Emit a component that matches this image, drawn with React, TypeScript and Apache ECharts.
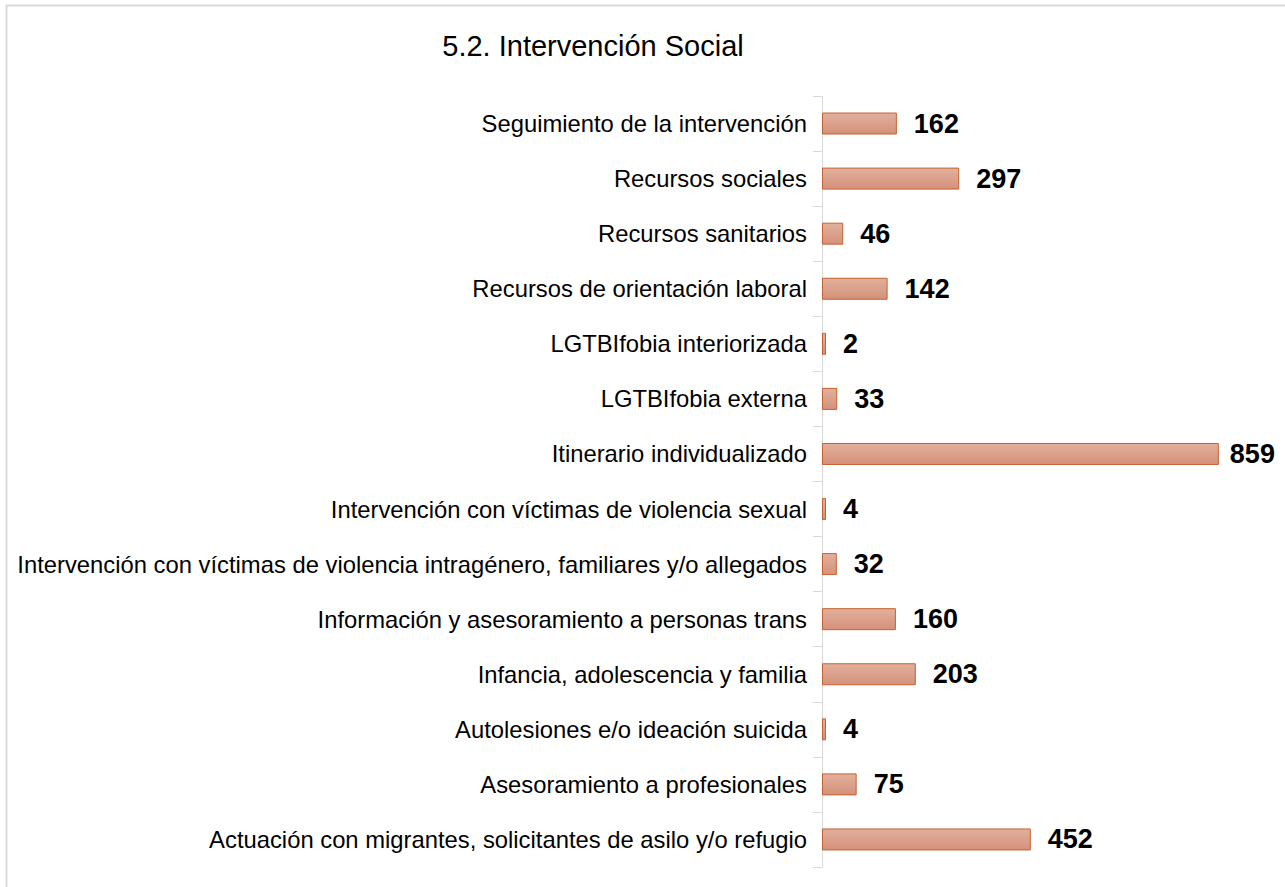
import React, { useEffect, useRef } from "react";
import * as echarts from "echarts";

const titleText = "5.2. Intervención Social";

const categories = [
  "Actuación con migrantes, solicitantes de asilo y/o refugio",
  "Asesoramiento a profesionales",
  "Autolesiones e/o ideación suicida",
  "Infancia, adolescencia y familia",
  "Información y asesoramiento a personas trans",
  "Intervención con víctimas de violencia intragénero, familiares y/o allegados",
  "Intervención con víctimas de violencia sexual",
  "Itinerario individualizado",
  "LGTBIfobia externa",
  "LGTBIfobia interiorizada",
  "Recursos de orientación laboral",
  "Recursos sanitarios",
  "Recursos sociales",
  "Seguimiento de la intervención",
];

const values = [452, 75, 4, 203, 160, 32, 4, 859, 33, 2, 142, 46, 297, 162];

const FONT = "Liberation Sans, Arial, sans-serif";

export default function App() {
  const ref = useRef<HTMLDivElement>(null);
  useEffect(() => {
    if (!ref.current) return;
    const chart = echarts.init(ref.current, undefined, { renderer: "svg" });
    const maxVal = Math.max(...values);
    chart.setOption({
      animation: false,
      backgroundColor: "#ffffff",
      graphic: [
        {
          type: "rect",
          shape: { x: 6.5, y: 5.5, width: 1300, height: 900 },
          style: { fill: "none", stroke: "#d9d9d9", lineWidth: 2 },
          silent: true,
          z: -1,
        },
        {
          type: "text",
          x: 593,
          y: 46,
          style: {
            text: titleText,
            fontFamily: FONT,
            fontSize: 29,
            fill: "#000000",
            textAlign: "center",
            textVerticalAlign: "middle",
          },
          silent: true,
        },
      ],
      grid: {
        left: 822,
        top: 96,
        width: 462,
        height: 771,
        containLabel: false,
      },
      xAxis: {
        type: "value",
        min: 0,
        max: 1000,
        show: false,
      },
      yAxis: {
        type: "category",
        data: categories,
        axisLine: { show: true, lineStyle: { color: "#d9d9d9", width: 1 } },
        axisTick: { show: true, length: 9, lineStyle: { color: "#d9d9d9" } },
        axisLabel: {
          margin: 15,
          fontFamily: FONT,
          fontSize: 23.8,
          color: "#000000",
        },
      },
      series: [
        {
          type: "bar",
          barWidth: 22,
          barMinHeight: 4,
          data: values.map((v) => ({
            value: v,
            label: { distance: v === maxVal ? 11 : 17 },
          })),
          itemStyle: {
            color: new echarts.graphic.LinearGradient(0, 0, 0, 1, [
              { offset: 0, color: "#e2b09e" },
              { offset: 1, color: "#d4917a" },
            ]),
            borderColor: "#c4622f",
            borderWidth: 1,
          },
          label: {
            show: true,
            position: "right",
            fontFamily: FONT,
            fontSize: 27,
            fontWeight: "bold",
            color: "#000000",
          },
        },
      ],
    });
    return () => chart.dispose();
  }, []);
  return (
    <div
      ref={ref}
      style={{ position: "fixed", left: 0, top: 0, width: 1285, height: 887 }}
    />
  );
}
